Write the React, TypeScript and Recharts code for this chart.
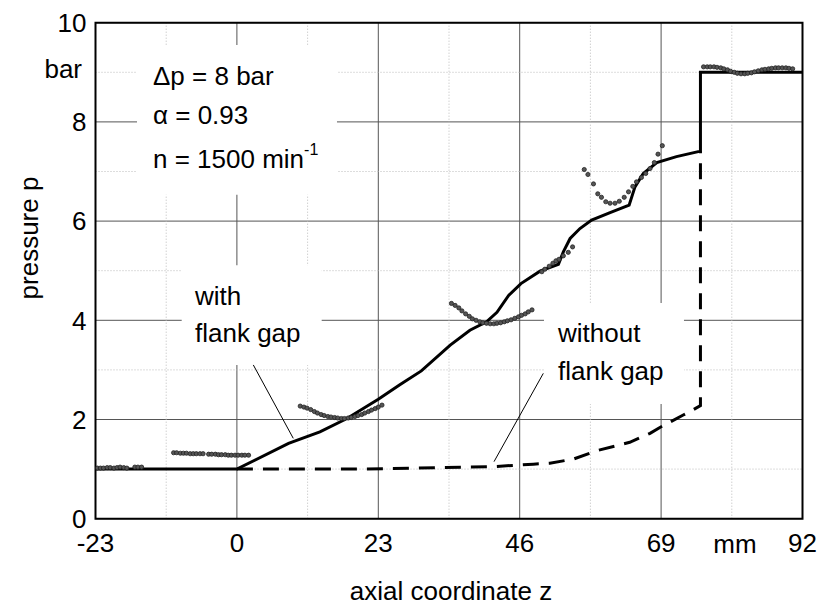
import React from 'react';
import {
  CartesianGrid,
  ComposedChart,
  Line,
  ReferenceArea,
  ReferenceLine,
  Scatter,
  XAxis,
  YAxis,
} from 'recharts';

// axis ticks
const X_TICKS = [-23, 0, 23, 46, 69, 92];
const Y_TICKS = [0, 2, 4, 6, 8, 10];
const MINOR_X = [-11.5, 11.5, 34.5, 57.5, 80.5];
const MINOR_Y = [1, 3, 5, 7, 9];

// calculated pressure, with flank gap (solid)
const withGap = [
  { z: -23, p: 1 },
  { z: 0, p: 1 },
  { z: 8.4, p: 1.52 },
  { z: 13.5, p: 1.75 },
  { z: 17.9, p: 2.02 },
  { z: 23, p: 2.41 },
  { z: 26.5, p: 2.7 },
  { z: 30, p: 2.98 },
  { z: 34.7, p: 3.5 },
  { z: 37.9, p: 3.8 },
  { z: 40.6, p: 3.97 },
  { z: 42.3, p: 4.16 },
  { z: 44.2, p: 4.5 },
  { z: 46.2, p: 4.74 },
  { z: 49.3, p: 4.99 },
  { z: 52.3, p: 5.13 },
  { z: 53.1, p: 5.38 },
  { z: 54.2, p: 5.65 },
  { z: 55.8, p: 5.85 },
  { z: 57.7, p: 6.02 },
  { z: 60.7, p: 6.17 },
  { z: 63.8, p: 6.32 },
  { z: 64.75, p: 6.69 },
  { z: 66.1, p: 6.96 },
  { z: 68.3, p: 7.18 },
  { z: 71.5, p: 7.3 },
  { z: 75.4, p: 7.41 },
  { z: 75.4, p: 9.0 },
  { z: 92, p: 9.0 },
];

// calculated pressure, without flank gap (dashed)
const withoutGap = [
  { z: 0, p: 1 },
  { z: 10, p: 1 },
  { z: 20, p: 1.0 },
  { z: 29.6, p: 1.02 },
  { z: 41.8, p: 1.05 },
  { z: 48.2, p: 1.1 },
  { z: 50.9, p: 1.12 },
  { z: 54.7, p: 1.2 },
  { z: 58.5, p: 1.37 },
  { z: 63.9, p: 1.54 },
  { z: 67.2, p: 1.72 },
  { z: 68.8, p: 1.84 },
  { z: 72.6, p: 2.09 },
  { z: 73.7, p: 2.16 },
  { z: 75.4, p: 2.28 },
  { z: 75.4, p: 7.41 },
];

// measured points
const meas1 = [
  { z: -22.7, p: 1.02 }, { z: -22.2, p: 1.02 }, { z: -21.7, p: 1.02 }, { z: -21.1, p: 1.03 },
  { z: -20.6, p: 1.03 }, { z: -20.0, p: 1.02 }, { z: -19.5, p: 1.03 }, { z: -19.0, p: 1.04 },
  { z: -18.4, p: 1.03 }, { z: -17.9, p: 1.02 }, { z: -16.6, p: 1.04 }, { z: -16.1, p: 1.04 },
  { z: -15.5, p: 1.04 },
];
const meas2 = [
  { z: -10.3, p: 1.33 }, { z: -9.8, p: 1.33 }, { z: -9.2, p: 1.32 }, { z: -8.7, p: 1.32 },
  { z: -8.2, p: 1.32 }, { z: -7.6, p: 1.31 }, { z: -7.1, p: 1.31 }, { z: -6.6, p: 1.31 },
  { z: -6.0, p: 1.31 }, { z: -5.5, p: 1.31 }, { z: -4.6, p: 1.3 }, { z: -4.1, p: 1.3 },
  { z: -3.5, p: 1.3 }, { z: -3.0, p: 1.29 }, { z: -2.5, p: 1.29 }, { z: -1.9, p: 1.29 },
  { z: -1.4, p: 1.28 }, { z: -0.9, p: 1.28 }, { z: -0.3, p: 1.28 }, { z: 0.2, p: 1.28 },
  { z: 0.8, p: 1.28 }, { z: 1.3, p: 1.28 }, { z: 1.9, p: 1.28 },
];
const meas3 = [
  { z: 10.3, p: 2.27 }, { z: 10.9, p: 2.25 }, { z: 11.4, p: 2.23 }, { z: 12.0, p: 2.2 },
  { z: 12.6, p: 2.16 }, { z: 13.1, p: 2.13 }, { z: 13.7, p: 2.1 }, { z: 14.2, p: 2.08 },
  { z: 14.8, p: 2.06 }, { z: 15.3, p: 2.05 }, { z: 15.9, p: 2.04 }, { z: 16.4, p: 2.03 },
  { z: 17.0, p: 2.02 }, { z: 17.5, p: 2.02 }, { z: 18.1, p: 2.03 }, { z: 18.6, p: 2.04 },
  { z: 19.2, p: 2.06 }, { z: 19.7, p: 2.08 }, { z: 20.3, p: 2.1 }, { z: 20.8, p: 2.13 },
  { z: 21.4, p: 2.16 }, { z: 21.9, p: 2.19 }, { z: 22.5, p: 2.22 }, { z: 23.0, p: 2.25 },
  { z: 23.6, p: 2.29 },
];
const meas4 = [
  { z: 34.9, p: 4.34 }, { z: 35.5, p: 4.3 }, { z: 36.1, p: 4.25 }, { z: 36.6, p: 4.19 },
  { z: 37.2, p: 4.13 }, { z: 37.8, p: 4.08 }, { z: 38.3, p: 4.03 }, { z: 38.9, p: 4.0 },
  { z: 39.5, p: 3.97 }, { z: 40.0, p: 3.95 }, { z: 40.6, p: 3.94 }, { z: 41.2, p: 3.93 },
  { z: 41.8, p: 3.93 }, { z: 42.3, p: 3.94 }, { z: 42.9, p: 3.95 }, { z: 43.5, p: 3.97 },
  { z: 44.0, p: 3.99 }, { z: 44.6, p: 4.01 }, { z: 45.2, p: 4.04 }, { z: 45.8, p: 4.07 },
  { z: 46.3, p: 4.1 }, { z: 46.9, p: 4.13 }, { z: 47.4, p: 4.17 }, { z: 48.0, p: 4.21 },
];
const meas5 = [
  { z: 49.6, p: 4.98 }, { z: 50.1, p: 5.03 }, { z: 50.8, p: 5.09 }, { z: 51.4, p: 5.15 },
  { z: 51.9, p: 5.2 }, { z: 52.4, p: 5.23 }, { z: 53.1, p: 5.3 }, { z: 53.9, p: 5.37 },
  { z: 54.6, p: 5.48 },
];
const meas6 = [
  { z: 56.5, p: 7.04 }, { z: 57.1, p: 6.94 }, { z: 58.0, p: 6.75 }, { z: 58.7, p: 6.55 },
  { z: 59.3, p: 6.48 }, { z: 60.0, p: 6.39 }, { z: 60.7, p: 6.36 }, { z: 61.5, p: 6.36 },
  { z: 62.2, p: 6.4 }, { z: 63.0, p: 6.48 }, { z: 63.7, p: 6.59 }, { z: 64.4, p: 6.7 },
  { z: 65.0, p: 6.79 }, { z: 65.8, p: 6.88 }, { z: 66.5, p: 6.96 }, { z: 67.2, p: 7.06 },
  { z: 67.9, p: 7.18 }, { z: 68.5, p: 7.35 }, { z: 69.2, p: 7.52 },
];
const meas7 = [
  { z: 75.9, p: 9.11 }, { z: 76.5, p: 9.11 }, { z: 77.0, p: 9.11 }, { z: 77.6, p: 9.11 },
  { z: 78.1, p: 9.1 }, { z: 78.7, p: 9.09 }, { z: 79.2, p: 9.07 }, { z: 79.8, p: 9.05 },
  { z: 80.3, p: 9.02 }, { z: 80.9, p: 9.0 }, { z: 81.4, p: 8.98 }, { z: 82.0, p: 8.97 },
  { z: 82.6, p: 8.97 }, { z: 83.1, p: 8.98 }, { z: 83.7, p: 8.99 }, { z: 84.2, p: 9.01 },
  { z: 84.8, p: 9.03 }, { z: 85.4, p: 9.05 }, { z: 85.9, p: 9.06 }, { z: 86.5, p: 9.07 },
  { z: 87.0, p: 9.08 }, { z: 87.6, p: 9.09 }, { z: 88.1, p: 9.09 }, { z: 88.7, p: 9.09 },
  { z: 89.3, p: 9.09 }, { z: 89.8, p: 9.08 }, { z: 90.4, p: 9.07 },
];
const measured = [meas1, meas2, meas3, meas4, meas5, meas6, meas7];

const FONT = '"Liberation Sans", Arial, sans-serif';
const W = 821;
const H = 605;

const Dot = (props: { cx?: number; cy?: number }) => {
  const { cx, cy } = props;
  if (cx == null || cy == null) return null;
  return <circle cx={cx} cy={cy} r={2.1} fill="#555" stroke="#222" strokeWidth={0.8} />;
};

export default function App() {
  const tick = { fill: '#000', fontSize: 26, fontFamily: FONT };
  return (
    <div style={{ position: 'absolute', left: 0, top: 0, width: W, height: H, background: '#fff' }}>
      <ComposedChart
        width={W}
        height={H}
        margin={{ top: 22.7, right: 18.5, left: 35.5, bottom: 56.3 }}
      >
        <CartesianGrid stroke="#555" strokeWidth={1} />
        <XAxis
          type="number"
          dataKey="z"
          domain={[-23, 92]}
          ticks={X_TICKS}
          height={30}
          tick={tick}
          tickSize={0}
          tickMargin={15}
          axisLine={false}
          allowDataOverflow
        />
        <YAxis
          type="number"
          dataKey="p"
          domain={[0, 10]}
          ticks={Y_TICKS}
          width={60}
          tick={tick}
          tickSize={0}
          tickMargin={9}
          axisLine={false}
        />
        {MINOR_X.map((v) => (
          <ReferenceLine key={`mx${v}`} x={v} stroke="#bbb" strokeDasharray="1 2" zIndex={-90} />
        ))}
        {MINOR_Y.map((v) => (
          <ReferenceLine key={`my${v}`} y={v} stroke="#bbb" strokeDasharray="1 2" zIndex={-90} />
        ))}
        {/* white label boxes */}
        <ReferenceArea x1={-16.25} x2={16.28} y1={6.53} y2={9.55} fill="#fff" fillOpacity={1} stroke="none" zIndex={-80} />
        <ReferenceArea x1={-8.98} x2={13.79} y1={3.1} y2={5.11} fill="#fff" fillOpacity={1} stroke="none" zIndex={-80} />
        <ReferenceArea x1={49.95} x2={72.72} y1={2.31} y2={4.35} fill="#fff" fillOpacity={1} stroke="none" zIndex={-80} />
        {/* leader lines */}
        <ReferenceLine segment={[{ x: 2.67, y: 3.1 }, { x: 9.17, y: 1.62 }]} stroke="#000" strokeWidth={1} />
        <ReferenceLine segment={[{ x: 49.84, y: 2.93 }, { x: 41.82, y: 1.15 }]} stroke="#000" strokeWidth={1} />
        <Line
          data={withoutGap}
          dataKey="p"
          type="linear"
          stroke="#000"
          strokeWidth={3}
          strokeDasharray="16 10"
          dot={false}
          activeDot={false}
          isAnimationActive={false}
        />
        <Line
          data={withGap}
          dataKey="p"
          type="linear"
          stroke="#000"
          strokeWidth={3}
          dot={false}
          activeDot={false}
          isAnimationActive={false}
        />
        {measured.map((d, i) => (
          <Scatter key={`m${i}`} data={d} dataKey="p" shape={<Dot />} isAnimationActive={false} />
        ))}
        <ReferenceArea x1={-23} x2={92} y1={0} y2={10} fill="none" stroke="#000" strokeWidth={2} />
      </ComposedChart>
      <svg
        width={W}
        height={H}
        style={{ position: 'absolute', left: 0, top: 0, pointerEvents: 'none' }}
        fontFamily={FONT}
        fontSize={26}
        fill="#000"
      >
        <text x={153} y={85}>Δp = 8 bar</text>
        <text x={153} y={124}>α = 0.93</text>
        <text x={153} y={168}>
          n = 1500 min<tspan fontSize={16} dy={-13}>-1</tspan>
        </text>
        <text x={195} y={305}>with</text>
        <text x={195} y={342}>flank gap</text>
        <text x={558} y={342}>without</text>
        <text x={558} y={380}>flank gap</text>
        <text x={82} y={78} textAnchor="end">bar</text>
        <text x={735} y={553} textAnchor="middle">mm</text>
        <text x={451} y={600} textAnchor="middle">axial coordinate z</text>
        <text x={38} y={238} textAnchor="middle" transform="rotate(-90 38 238)">pressure p</text>
      </svg>
    </div>
  );
}
